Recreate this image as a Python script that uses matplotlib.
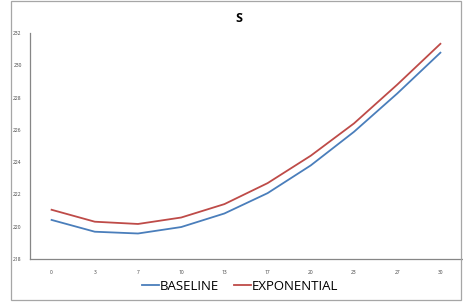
import matplotlib
matplotlib.use("Agg")
import matplotlib.pyplot as plt
from matplotlib.patches import Rectangle

plt.rcParams['font.family'] = ['Open Sans', 'DejaVu Sans']

categories = ["0", "3", "7", "10", "13", "17", "20", "23", "27", "30"]
baseline = [220.42, 219.69, 219.58, 219.98, 220.82, 222.08, 223.80, 225.88, 228.25, 230.78]
exponential = [221.05, 220.31, 220.17, 220.57, 221.40, 222.70, 224.40, 226.40, 228.80, 231.33]
y_ticks = [218, 220, 222, 224, 226, 228, 230, 232]

fig = plt.figure(figsize=(4.63, 3.07), dpi=100)
ax = fig.add_axes([30/463, 1 - 259/307, 432/463, 226/307])

x = range(len(categories))
ax.plot(x, baseline, color="#4a7ebb", lw=1.3, label="BASELINE")
ax.plot(x, exponential, color="#be4b48", lw=1.3, label="EXPONENTIAL")

ax.set_xlim(-0.5, len(categories) - 0.5)
ax.set_ylim(218, 232)
ax.set_xticks(list(x))
ax.set_xticklabels(categories)
ax.set_yticks(y_ticks)
ax.tick_params(length=0, labelsize=3.5, colors="#404040", pad=6)
ax.tick_params(axis="x", pad=8)
for s in ["top", "right"]:
    ax.spines[s].set_visible(False)
for s in ["left", "bottom"]:
    ax.spines[s].set_color("#868686")
    ax.spines[s].set_linewidth(0.9)

fig.text(239/463, 1 - 18/307, "S", ha="center", va="center", fontsize=9, fontweight="bold")
fig.legend(loc="center", bbox_to_anchor=(240/463, 1 - 286/307), ncol=2, frameon=False,
           fontsize=9.5, handlelength=1.3, handletextpad=0.05, columnspacing=1.1)

fig.patches.append(Rectangle((11/463, 1 - 300/307), 450/463, 299/307, transform=fig.transFigure,
                             fill=False, edgecolor="#a6a6a6", lw=0.9))

fig.savefig("out.png", dpi=100)
